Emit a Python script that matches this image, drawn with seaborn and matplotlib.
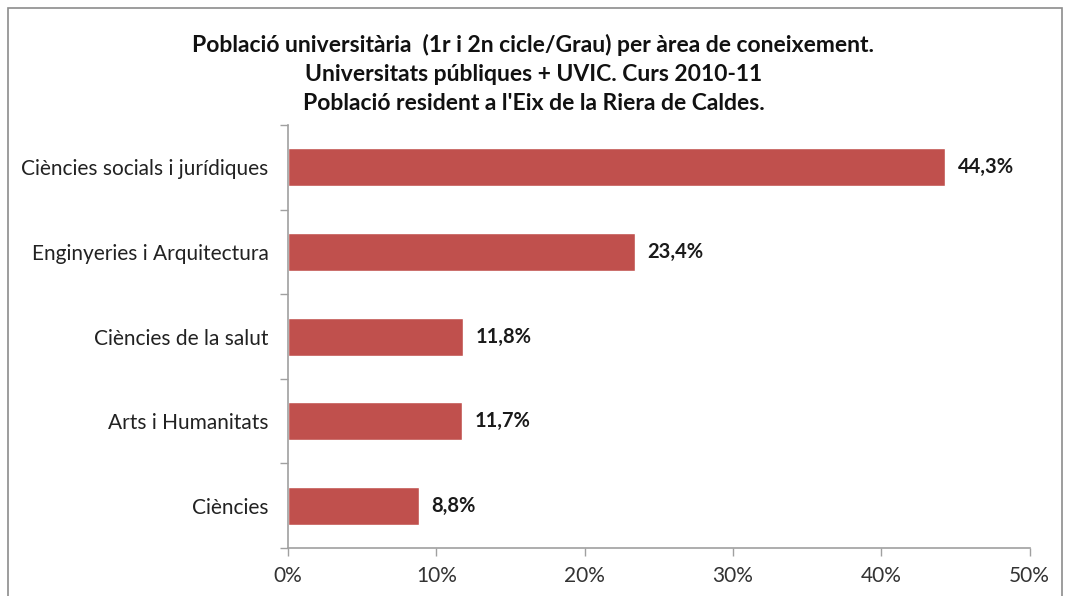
import matplotlib
matplotlib.use("Agg")
import matplotlib.pyplot as plt
import pandas as pd
import seaborn as sns
from matplotlib.patches import Rectangle
from matplotlib.ticker import FixedLocator, PercentFormatter

areas = [
    "Ciències socials i jurídiques",
    "Enginyeries i Arquitectura",
    "Ciències de la salut",
    "Arts i Humanitats",
    "Ciències",
]
percent = [44.3, 23.4, 11.8, 11.7, 8.8]
labels = ["44,3%", "23,4%", "11,8%", "11,7%", "8,8%"]

df = pd.DataFrame({"area": areas, "pct": percent})

sns.set_style("white")
plt.rcParams["font.family"] = ["Lato", "DejaVu Sans"]

fig = plt.figure(figsize=(10.67, 5.96), dpi=100)
ax = fig.add_axes([0.270, 0.0805, 0.695, 0.7095])

sns.barplot(data=df, x="pct", y="area", color="#C0504D", width=0.45,
            saturation=1, ax=ax)

# value labels
for i, (v, t) in enumerate(zip(percent, labels)):
    ax.text(v + 0.85, i, t, va="center", ha="left", fontsize=14.5,
            fontweight="bold", color="#1a1a1a")

ax.set_xlim(0, 50)
ax.set_ylim(4.5, -0.5)
ax.set_xticks([0, 10, 20, 30, 40, 50])
ax.xaxis.set_major_formatter(PercentFormatter(decimals=0))
ax.set_xlabel("")
ax.set_ylabel("")

# ticks between categories on the y axis
ax.yaxis.set_minor_locator(FixedLocator([-0.5, 0.5, 1.5, 2.5, 3.5, 4.5]))
ax.tick_params(axis="y", which="major", length=0, pad=14, labelsize=15,
               labelcolor="#222222")
ax.tick_params(axis="y", which="minor", length=6, width=1, color="#a0a0a0",
               direction="out", left=True)
ax.tick_params(axis="x", which="major", length=6, width=1, color="#a0a0a0",
               direction="out", bottom=True, labelsize=15, labelcolor="#333333",
               pad=7)

for side in ["top", "right"]:
    ax.spines[side].set_visible(False)
for side in ["left", "bottom"]:
    ax.spines[side].set_color("#a0a0a0")
    ax.spines[side].set_linewidth(1.2)

fig.text(0.5, 0.876,
         "Població universitària  (1r i 2n cicle/Grau) per àrea de coneixement.\n"
         "Universitats públiques + UVIC. Curs 2010-11\n"
         "Població resident a l'Eix de la Riera de Caldes.",
         ha="center", va="center", fontsize=16.5, fontweight="bold",
         linespacing=1.45, color="#111111")

# outer chart frame
fig.patches.append(Rectangle((0.0075, -0.05), 0.9875, 1.037, transform=fig.transFigure,
                             fill=False, edgecolor="#8c8c8c", linewidth=1.2))

fig.savefig("out.png", dpi=100)
